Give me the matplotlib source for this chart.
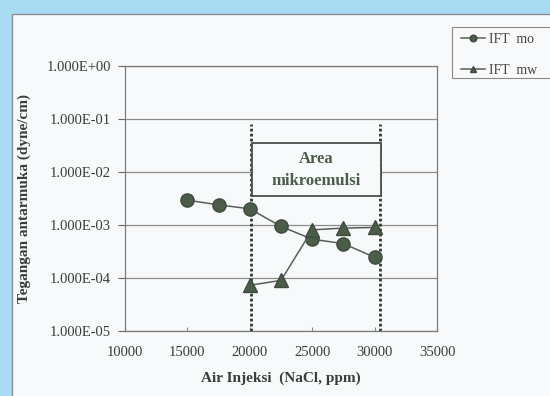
import matplotlib.pyplot as plt
from matplotlib.patches import Rectangle
from matplotlib.ticker import FuncFormatter
import numpy as np

plt.rcParams['font.family'] = ['Liberation Serif', 'DejaVu Serif']

# salinitas air injeksi (ppm NaCl)
nacl_mo = [15000, 17500, 20000, 22500, 25000, 27500, 30000]
ift_mo = [2.94e-3, 2.40e-3, 2.02e-3, 9.4e-4, 5.4e-4, 4.45e-4, 2.46e-4]

nacl_mw = [20000, 22500, 25000, 27500, 30000]
ift_mw = [7.3e-5, 9.0e-5, 8.1e-4, 8.75e-4, 9.0e-4]

# batas area mikroemulsi
batas_kiri = 20100
batas_kanan = 30400

yticks = [1e0, 1e-1, 1e-2, 1e-3, 1e-4, 1e-5]
xticks = [10000, 15000, 20000, 25000, 30000, 35000]

biru = '#a9dcf2'
kertas = '#f8f9fb'
hijau = '#4b5c49'
abu = '#5a5e5a'
teks = '#3a3d3a'

fig = plt.figure(figsize=(5.5, 3.96), dpi=100)
fig.patch.set_facecolor(biru)
panel = Rectangle((12/550, -0.02), 1.0, 1 - 14/396 + 0.02,
                  transform=fig.transFigure, facecolor=kertas,
                  edgecolor='#8a8f92', lw=1.0, zorder=-10)
fig.add_artist(panel)

ax = fig.add_axes([125/550, 65/396, 312/550, 265/396])
ax.set_facecolor(kertas)
ax.set_yscale('log')
ax.set_xlim(10000, 35000)
ax.set_ylim(1e-5, 1e0)

for y in yticks:
    ax.axhline(y, color='#8c8c8c', lw=0.9, zorder=1)

ax.vlines([batas_kiri, batas_kanan], 1e-5, 0.08, colors='#2f3a33',
          linestyles=(0, (1, 0.8)), lw=2.0, zorder=2)
ax.add_patch(Rectangle((20200, 3.6e-3), 30500 - 20200, 3.6e-2 - 3.6e-3,
                       facecolor=kertas, edgecolor='#4a4f4c', lw=1.3, zorder=3))
ax.text(25350, 1.1e-2, 'Area\nmikroemulsi', ha='center', va='center',
        fontsize=12, fontweight='bold', color=hijau, linespacing=1.45, zorder=4)

l1, = ax.plot(nacl_mo, ift_mo, '-o', color=abu, lw=1.1, ms=9.5,
              mfc=hijau, mec='#3e4b3d', zorder=5)
l2, = ax.plot(nacl_mw, ift_mw, '-^', color=abu, lw=1.1, ms=9.5,
              mfc=hijau, mec='#3e4b3d', zorder=5)

ax.set_xticks(xticks)
ax.set_yticks(yticks)
ax.minorticks_off()
ax.yaxis.set_major_formatter(FuncFormatter(lambda v, p: '%.3fE%+03d' % (1.0, round(np.log10(v)))))
ax.tick_params(axis='y', direction='out', length=5, width=0.8, color='#666666',
               labelsize=10.5, labelcolor=teks, pad=5)
ax.tick_params(axis='x', direction='in', length=3, width=0.8, color='#888888',
               labelsize=10.5, labelcolor=teks, pad=11)
for s in ax.spines.values():
    s.set_color('#7a7a7a')
    s.set_linewidth(0.9)

ax.set_xlabel('Air Injeksi  (NaCl, ppm)', fontsize=11, fontweight='bold',
              color=teks, labelpad=9)
ax.set_ylabel('Tegangan antarmuka (dyne/cm)', fontsize=11, fontweight='bold',
              color=teks, labelpad=11)

# kotak legenda terpotong di tepi kanan
fig.add_artist(Rectangle((452/550, 1 - 78/396), 0.3, 51/396,
                         transform=fig.transFigure, facecolor=kertas,
                         edgecolor='#8a8a8a', lw=0.8, zorder=1))
leg = fig.legend([l1, l2], ['IFT  mo', 'IFT  mw'], loc='upper left',
                 bbox_to_anchor=(457/550, 1 - 29/396), fontsize=10,
                 frameon=False, handlelength=1.7, markerscale=0.5,
                 labelspacing=1.25, borderpad=0.3, handletextpad=0.3,
                 borderaxespad=0)
leg.set_zorder(2)
for t in leg.get_texts():
    t.set_color('#444444')

fig.savefig('out.png', dpi=100, facecolor=fig.get_facecolor())
